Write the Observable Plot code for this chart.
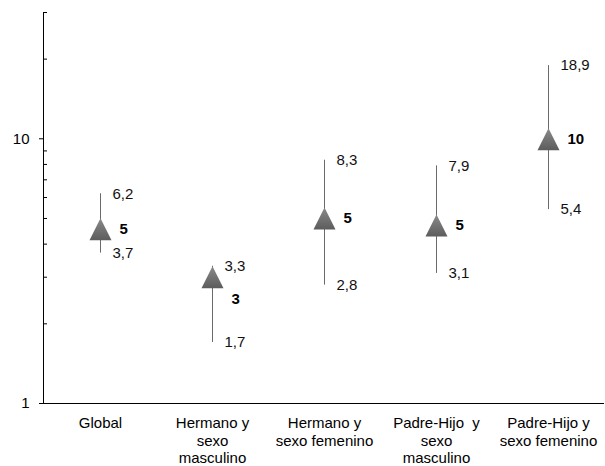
<!DOCTYPE html>
<html><head><meta charset="utf-8">
<script src="https://cdn.jsdelivr.net/npm/d3@7"></script>
<script src="https://cdn.jsdelivr.net/npm/@observablehq/plot@0.6"></script>
<style>body{margin:0;background:#fff} svg{display:block}</style>
</head><body><div id="chart"></div>
<script>
const categories = ["Global", "Hermano y\nsexo\nmasculino", "Hermano y\nsexo femenino", "Padre-Hijo  y\nsexo\nmasculino", "Padre-Hijo y\nsexo femenino"];
const estimates = [4.55, 3.0, 5.0, 4.7, 9.95];
const estimateLabels = ["5", "3", "5", "5", "10"];
const upper = [6.2, 3.3, 8.3, 7.9, 18.9];
const lower = [3.7, 1.7, 2.8, 3.1, 5.4];
const majorTicks = [1, 10];
const minorTicks = [2, 3, 4, 5, 6, 7, 8, 9, 20, 30];

const fmt = v => v.toFixed(1).replace(".", ",");
const data = categories.map((c, i) => ({cat: c, est: estimates[i], lab: estimateLabels[i], hi: upper[i], lo: lower[i]}));
const triangle = {draw(ctx) { const w = 22, h = 22; ctx.moveTo(0, -h / 2); ctx.lineTo(w / 2, h / 2); ctx.lineTo(-w / 2, h / 2); ctx.closePath(); }};
const crowded = d => d.hi / d.est < 1.15;

const chart = Plot.plot({
  width: 605, height: 466,
  marginLeft: 43, marginRight: 1, marginTop: 12, marginBottom: 63,
  style: {fontFamily: "'Liberation Sans', Arial, sans-serif", fontSize: "15px", color: "#000", background: "#fff"},
  x: {type: "band", domain: categories, padding: 0, label: null},
  y: {type: "log", domain: [1, 30], label: null},
  marks: [
    Plot.axisX({tickSize: 0, tickPadding: 12, label: null, lineHeight: 1.17}),
    Plot.axisY({ticks: majorTicks, tickSize: 4, tickPadding: 10, tickFormat: d => String(d), label: null}),
    Plot.axisY({ticks: minorTicks, tickSize: 4, dx: 4, text: null, label: null}),
    Plot.ruleY([1], {stroke: "#000"}),
    Plot.frame({anchor: "left", stroke: "#000"}),
    Plot.ruleX(data, {x: "cat", y1: "lo", y2: "hi", stroke: "#6a6a6a"}),
    Plot.dot(data, {x: "cat", y: "est", symbol: triangle, fill: "url(#triGrad)", r: 10, stroke: "none"}),
    Plot.text(data, {x: "cat", y: "hi", text: d => fmt(d.hi), dx: 12, textAnchor: "start", fill: "#111"}),
    Plot.text(data, {x: "cat", y: "lo", text: d => fmt(d.lo), dx: 12, textAnchor: "start", fill: "#111"}),
    Plot.text(data, {filter: d => !crowded(d), x: "cat", y: "est", text: "lab", dx: 19, textAnchor: "start", fontWeight: "bold", fill: "#000"}),
    Plot.text(data, {filter: crowded, x: "cat", y: "est", text: "lab", dx: 19, dy: 22, textAnchor: "start", fontWeight: "bold", fill: "#000"})
  ]
});

const defs = document.createElementNS("http://www.w3.org/2000/svg", "defs");
defs.innerHTML = `<linearGradient id="triGrad" x1="0" y1="0" x2="0" y2="1">
  <stop offset="0" stop-color="#8a8a8a"/><stop offset="1" stop-color="#5c5c5c"/></linearGradient>
  <filter id="triShadow" x="-50%" y="-50%" width="200%" height="200%"><feDropShadow dx="0" dy="1.5" stdDeviation="1.2" flood-color="#000" flood-opacity="0.3"/></filter>`;
chart.insertBefore(defs, chart.firstChild);
d3.select(chart).selectAll("path").filter(function() { return this.getAttribute("fill") === "url(#triGrad)"; }).attr("filter", "url(#triShadow)");
document.getElementById("chart").appendChild(chart);
</script>
</body></html>
